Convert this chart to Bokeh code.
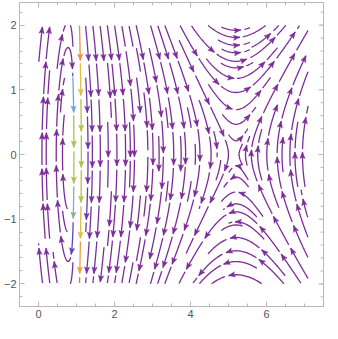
import math
import numpy as np
from bokeh.plotting import figure
from bokeh.models import Range1d, FixedTicker
from bokeh.embed import file_html
from bokeh.resources import INLINE

# ---------------- data ----------------
x_domain = [0.0, 7.1]          # region where streamlines are traced
y_domain = [-2.0, 2.0]
x_view = [-0.5, 7.5]           # frame range
y_view = [-2.35, 2.35]
x_major = [0, 2, 4, 6]
x_minor = [v * 0.5 for v in range(-1, 16)]
y_major = [-2, -1, 0, 1, 2]
y_minor = [round(v * 0.2, 1) for v in range(-11, 12)]
y_labels = {-2: "\u22122", -1: "\u22121", 0: "0", 1: "1", 2: "2"}

# vector field  dx/dt = y ,  dy/dt = F(x)
base_K, base_c, base_s, base_p, base_q, base_n = 2.5, 0.78, 5.2, 0.9, 0.45, 0.75
spike_A, spike_x0, spike_wl, spike_wr = 60.0, 1.0, 0.08, 0.13
speed_range = [9.6, 52.1]
seed_x = [1.08, 0.90]          # streamlines started first
seed_y = [1.98, 1.25]
palette_stops = [0.0, 0.2, 0.35, 0.55, 0.7, 0.85, 1.0]
palette_rgb = [(124, 44, 152), (72, 86, 205), (105, 165, 222), (172, 192, 72),
               (226, 190, 72), (240, 150, 60), (232, 92, 52)]

# -------------- streamline tracing --------------
SX, SY = 40.1, 68.3            # reference pixel scale used for spacing
W = (x_domain[1] - x_domain[0]) * SX
H = (y_domain[1] - y_domain[0]) * SY
NX, NY = 37, 35
cw, ch = W / NX, H / NY
MIN_LEN = 22


def F(x):
    b = base_K * (x - base_c) * (x - base_s) / (((x - base_p) ** 2 + base_q ** 2) ** base_n)
    wv = spike_wl if x < spike_x0 else spike_wr
    return b - spike_A * math.exp(-((x - spike_x0) / wv) ** 2)


def to_data(X, Y):
    return x_domain[0] + X / SX, y_domain[0] + Y / SY


def speed_at(X, Y):
    x, y = to_data(X, Y)
    return math.hypot(y, F(x))


def direction(X, Y):
    x, y = to_data(X, Y)
    DX, DY = y * SX, F(x) * SY
    m = math.hypot(DX, DY)
    if m < 1e-9:
        return None
    return DX / m, DY / m


mask = np.zeros((NY, NX), dtype=bool)


def cell(X, Y):
    return min(max(int(Y / ch), 0), NY - 1), min(max(int(X / cw), 0), NX - 1)


def trace(X, Y, sgn, traj):
    pts = []
    cur = cell(X, Y)
    h = 1.0
    total = 0.0
    while total < 3000:
        d1 = direction(X, Y)
        if d1 is None:
            break
        Xm, Ym = X + 0.5 * h * sgn * d1[0], Y + 0.5 * h * sgn * d1[1]
        if not (0 <= Xm <= W and 0 <= Ym <= H):
            break
        d2 = direction(Xm, Ym)
        if d2 is None or d1[0] * d2[0] + d1[1] * d2[1] < 0:
            break
        Xn, Yn = X + h * sgn * d2[0], Y + h * sgn * d2[1]
        if not (0 <= Xn <= W and 0 <= Yn <= H):
            break
        nc = cell(Xn, Yn)
        if nc != cur:
            if mask[nc]:
                break
            mask[nc] = True
            traj.append(nc)
            cur = nc
        X, Y = Xn, Yn
        pts.append((X, Y))
        total += h
    return pts


def gen_start(nx, ny):
    xfirst, yfirst, xlast, ylast = 0, 1, nx - 1, ny - 1
    x, y = 0, 0
    d = 'right'
    for _ in range(nx * ny):
        yield x, y
        if d == 'right':
            x += 1
            if x >= xlast:
                xlast -= 1
                d = 'up'
        elif d == 'up':
            y += 1
            if y >= ylast:
                ylast -= 1
                d = 'left'
        elif d == 'left':
            x -= 1
            if x <= xfirst:
                xfirst += 1
                d = 'down'
        else:
            y -= 1
            if y <= yfirst:
                yfirst += 1
                d = 'right'


def seeds():
    for sxv, syv in zip(seed_x, seed_y):
        yield (sxv - x_domain[0]) * SX, (syv - y_domain[0]) * SY
    for i, j in gen_start(NX, NY):
        yield (i + 0.5) * cw, (j + 0.5) * ch


lines = []
for X0, Y0 in seeds():
    c0 = cell(X0, Y0)
    if mask[c0]:
        continue
    traj = [c0]
    mask[c0] = True
    back = trace(X0, Y0, -1, traj)
    fwd = trace(X0, Y0, +1, traj)
    if len(back) + len(fwd) < MIN_LEN:
        for c_ in traj:
            mask[c_] = False
        continue
    lines.append(back[::-1] + [(X0, Y0)] + fwd)


def color_of(sp):
    t = (sp - speed_range[0]) / (speed_range[1] - speed_range[0])
    t = min(max(t, 0.0), 1.0)
    for k in range(len(palette_stops) - 1):
        if t <= palette_stops[k + 1]:
            f = (t - palette_stops[k]) / (palette_stops[k + 1] - palette_stops[k])
            a, b = palette_rgb[k], palette_rgb[k + 1]
            r = [int(round(a[m] + (b[m] - a[m]) * f)) for m in range(3)]
            return "#%02x%02x%02x" % tuple(r)
    return "#%02x%02x%02x" % palette_rgb[-1]


# -------------- figure --------------
FW, FH = 304, 304
sx, sy = FW / (x_view[1] - x_view[0]), FH / (y_view[1] - y_view[0])

L_arrow, gap = 37.5, 2.5
seg_xs, seg_ys, seg_col = [], [], []
arr_xs, arr_ys, arr_col = [], [], []
for line in lines:
    P = np.array(line)
    ds = np.hypot(np.diff(P[:, 0]), np.diff(P[:, 1]))
    s = np.concatenate([[0.0], np.cumsum(ds)])
    total = s[-1]
    marks = list(np.arange(L_arrow, total, L_arrow))
    if not marks and total > 26:
        marks = [total * 0.7]
    bounds = [0.0] + marks + [total]
    for k in range(len(bounds) - 1):
        a = bounds[k] + (gap if k > 0 else 0.0)
        b = bounds[k + 1]
        idx = (s >= a) & (s <= b)
        piece = P[idx]
        if len(piece) < 3:
            continue
        sp = np.mean([speed_at(X, Y) for X, Y in piece])
        col = color_of(sp)
        xd = x_domain[0] + piece[:, 0] / SX
        yd = y_domain[0] + piece[:, 1] / SY
        seg_xs.append(list(xd))
        seg_ys.append(list(yd))
        seg_col.append(col)
        if k < len(marks):
            tx, ty = xd[-1], yd[-1]
            dxp, dyp = (xd[-1] - xd[-3]) * sx, (yd[-1] - yd[-3]) * sy
            m = math.hypot(dxp, dyp)
            ux, uy = dxp / m, dyp / m
            Lh, Wh = 6.5, 2.6
            bx, by = -ux * Lh, -uy * Lh
            px_, py_ = -uy * Wh, ux * Wh
            arr_xs.append([tx, tx + (bx + px_) / sx, tx + (bx * 0.8) / sx, tx + (bx - px_) / sx])
            arr_ys.append([ty, ty + (by + py_) / sy, ty + (by * 0.8) / sy, ty + (by - py_) / sy])
            arr_col.append(col)

p = figure(frame_width=FW, frame_height=FH,
           x_range=Range1d(*x_view), y_range=Range1d(*y_view),
           output_backend="svg", toolbar_location=None,
           min_border_left=0, min_border_right=2, min_border_top=2, min_border_bottom=0,
           background_fill_color="white")
p.grid.visible = False
frame_col = "#b8b8b8"
p.outline_line_color = frame_col

p.multi_line(seg_xs, seg_ys, line_color=seg_col, line_width=1.3)
p.patches(arr_xs, arr_ys, fill_color=arr_col, line_color=arr_col, line_width=0.5)

# top / right frame ticks
tk_major, tk_minor = 5.0, 3.0
p.segment(x0=x_major, y0=[y_view[1]] * len(x_major), x1=x_major,
          y1=[y_view[1] - tk_major / sy] * len(x_major), line_color=frame_col, line_width=1)
p.segment(x0=x_minor, y0=[y_view[1]] * len(x_minor), x1=x_minor,
          y1=[y_view[1] - tk_minor / sy] * len(x_minor), line_color=frame_col, line_width=1)
p.segment(x0=[x_view[1]] * len(y_major), y0=y_major, x1=[x_view[1] - tk_major / sx] * len(y_major),
          y1=y_major, line_color=frame_col, line_width=1)
p.segment(x0=[x_view[1]] * len(y_minor), y0=y_minor, x1=[x_view[1] - tk_minor / sx] * len(y_minor),
          y1=y_minor, line_color=frame_col, line_width=1)

p.xaxis.ticker = FixedTicker(ticks=x_major, minor_ticks=x_minor)
p.yaxis.ticker = FixedTicker(ticks=y_major, minor_ticks=y_minor)
p.yaxis.major_label_overrides = y_labels
for ax in list(p.xaxis) + list(p.yaxis):
    ax.axis_line_color = frame_col
    ax.major_tick_line_color = frame_col
    ax.minor_tick_line_color = frame_col
    ax.major_tick_in, ax.major_tick_out = int(tk_major), 0
    ax.minor_tick_in, ax.minor_tick_out = int(tk_minor), 0
    ax.major_label_text_color = "#555555"
    ax.major_label_text_font = "Liberation Sans"
    ax.major_label_text_font_size = "11px"
    ax.major_label_standoff = 3

open("out.html", "w").write(file_html(p, INLINE))
